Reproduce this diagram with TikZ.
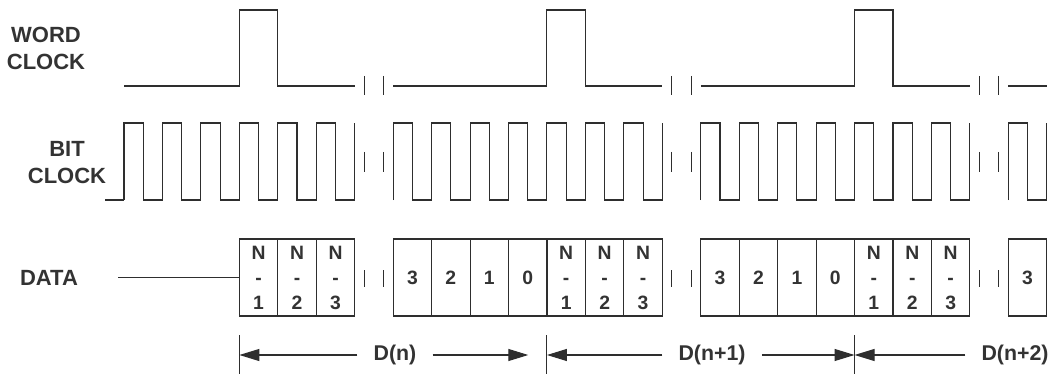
\documentclass[tikz,border=0pt]{standalone}
\usepackage{fontspec}
\setmainfont{Liberation Sans}
\usepackage{xcolor}
\definecolor{traceGray}{HTML}{2E2E2E}
\definecolor{labelGray}{HTML}{333333}
\usetikzlibrary{
    arrows.meta,
    positioning
}
% time of the first bit clock edge and one bit period (px)
\newcommand{\tzero}{124}
\newcommand{\bitper}{38.45}
\tikzset{
    % Base style for all waveform lines
    trace/.style={
        draw=traceGray,
        line width=0.8pt,
    },
    % Signal names on the left
    signame/.style={
        font=\bfseries\fontsize{16.5}{20.25}\selectfont,
        text=labelGray,
        align=center,
    },
    % One bit slot of the data stream
    bitcell/.style={
        draw=traceGray,
        line width=0.8pt,
        minimum width=28.84pt,
        minimum height=57.75pt,
        inner sep=0pt,
        outer sep=0pt,
        align=center,
        text=labelGray,
        font=\bfseries\fontsize{14.5}{18.75}\selectfont,
    },
    % Frame labels under the data row
    framelabel/.style={
        font=\bfseries\fontsize{16}{18}\selectfont,
        text=labelGray,
        inner xsep=12pt,
        inner ysep=0pt,
    },
    % Frame length arrows
    dimarrow/.style={
        -{Triangle[length=15pt, width=9pt]},
        draw=traceGray,
        line width=0.8pt,
    },
}

\begin{document}
\begin{tikzpicture}[x=0.75pt, y=-0.75pt]
    \useasboundingbox (0,0) rectangle (1056,374);

    % signal names
    \node (wclk) [signame] at (46,48) {WORD\\CLOCK};
    \node (bclk) [signame] at (67,163) {BIT\\CLOCK};
    \node (data) [signame] at (49,278) {DATA};

    % word clock
    \draw[trace] (\tzero,86) -| ({\tzero+3*\bitper},10) -| ({\tzero+4*\bitper},86) -- ({\tzero+6*\bitper},86);
    \draw[trace] ({\tzero+7*\bitper},86) -| ({\tzero+11*\bitper},10) -| ({\tzero+12*\bitper},86) -- ({\tzero+14*\bitper},86);
    \draw[trace] ({\tzero+15*\bitper},86) -| ({\tzero+19*\bitper},10) -| ({\tzero+20*\bitper},86) -- ({\tzero+22*\bitper},86);
    \draw[trace] ({\tzero+23*\bitper},86) -- ({\tzero+24*\bitper},86);

    % bit clock
    \draw[trace] (105,200) -- (\tzero,200);
    \foreach \a/\b in {0/6,7/14,15/22,23/24}{
        \pgfmathtruncatemacro{\bend}{\b-1}
        \draw[trace] ({\tzero+\a*\bitper},200)
            foreach \k in {\a,...,\bend}{
                -- ({\tzero+\k*\bitper},123) -- ({\tzero+(\k+0.5)*\bitper},123)
                -- ({\tzero+(\k+0.5)*\bitper},200) -- ({\tzero+(\k+1)*\bitper},200)
            } -- ({\tzero+\b*\bitper},123);
    }

    % data
    \coordinate (dstart) at (118,277.5);
    \node (f1) [bitcell] at ({\tzero+3.5*\bitper},277.5) {N\\-\\1};
    \node (f2) [bitcell, right=0pt of f1] {N\\-\\2};
    \node (f3) [bitcell, right=0pt of f2] {N\\-\\3};

    \node (s3) [bitcell] at ({\tzero+7.5*\bitper},277.5) {3};
    \node (s2) [bitcell, right=0pt of s3] {2};
    \node (s1) [bitcell, right=0pt of s2] {1};
    \node (s0) [bitcell, right=0pt of s1] {0};
    \node (sn1) [bitcell, right=0pt of s0] {N\\-\\1};
    \node (sn2) [bitcell, right=0pt of sn1] {N\\-\\2};
    \node (sn3) [bitcell, right=0pt of sn2] {N\\-\\3};

    \node (t3) [bitcell] at ({\tzero+15.5*\bitper},277.5) {3};
    \node (t2) [bitcell, right=0pt of t3] {2};
    \node (t1) [bitcell, right=0pt of t2] {1};
    \node (t0) [bitcell, right=0pt of t1] {0};
    \node (tn1) [bitcell, right=0pt of t0] {N\\-\\1};
    \node (tn2) [bitcell, right=0pt of tn1] {N\\-\\2};
    \node (tn3) [bitcell, right=0pt of tn2] {N\\-\\3};

    \node (u3) [bitcell] at ({\tzero+23.5*\bitper},277.5) {3};

    \draw[trace] (dstart) -- (f1);

    % breaks in time
    \foreach \k in {6,14,22}{
        \foreach \ya/\yb in {76/95,152/172,270/287}{
            \draw[trace] ({\tzero+(\k+0.25)*\bitper},\ya) -- ({\tzero+(\k+0.25)*\bitper},\yb);
            \draw[trace] ({\tzero+(\k+0.75)*\bitper},\ya) -- ({\tzero+(\k+0.75)*\bitper},\yb);
        }
    }

    % frames
    \coordinate (tk1) at ({\tzero+3*\bitper},355);
    \coordinate (tk2) at ({\tzero+11*\bitper},355);
    \coordinate (tk3) at ({\tzero+19*\bitper},355);
    \foreach \t in {tk1,tk2,tk3}
        \draw[trace] (\t) +(0,-20) -- +(0,19);

    \node (dn) [framelabel] at (395,355) {D(n)};
    \node (dn1) [framelabel] at (712,355) {D(n+1)};
    \node (dn2) [framelabel] at (1015,355) {D(n+2)};

    \draw[dimarrow] (dn) -- (tk1);
    \draw[dimarrow, shorten >=14pt] (dn) -- (tk2);
    \draw[dimarrow] (dn1) -- (tk2);
    \draw[dimarrow] (dn1) -- (tk3);
    \draw[dimarrow] (dn2) -- (tk3);
\end{tikzpicture}
\end{document}
